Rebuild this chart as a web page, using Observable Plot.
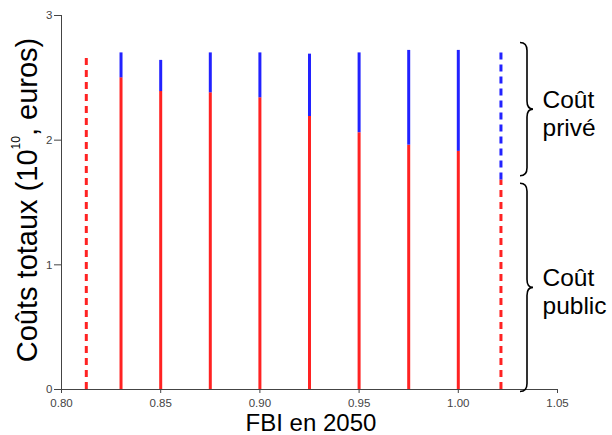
<!DOCTYPE html>
<html>
<head>
<meta charset="utf-8">
<script src="https://cdn.jsdelivr.net/npm/d3@7"></script>
<script src="https://cdn.jsdelivr.net/npm/@observablehq/plot@0.6"></script>
<style>
  html, body { margin: 0; padding: 0; background: #fff; }
  #chart { width: 612px; height: 435px; }
</style>
</head>
<body>
<div id="chart"></div>
<script>
// ---- data ----
const fbi        = [0.8125, 0.83, 0.85, 0.875, 0.90, 0.925, 0.95, 0.975, 1.00, 1.0215];
const coutPublic = [2.69, 2.50, 2.39, 2.38, 2.34, 2.19, 2.06, 1.96, 1.91, 1.68];
const coutTotal  = [2.69, 2.70, 2.64, 2.70, 2.70, 2.69, 2.70, 2.72, 2.72, 2.73];
const estimated  = [true, false, false, false, false, false, false, false, false, true];
const xTicks = [0.80, 0.85, 0.90, 0.95, 1.00, 1.05];
const yTicks = [0, 1, 2, 3];
const braceFrom   = [1.71, -0.02];
const braceTo     = [2.78, 1.65];
const braceLabels = ["Coût\nprivé", "Coût\npublic"];
const xLabel = "FBI en 2050";
const yLabelParts = ["Coûts totaux (10", "10", ", euros)"];

// ---- derived tables ----
const rows = fbi.map((x, i) => ({x, pub: coutPublic[i], tot: coutTotal[i], dashed: estimated[i]}));
const braces = braceFrom.map((f, i) => ({from: f, to: braceTo[i], label: braceLabels[i]}));

const RED = "#ff2222", BLUE = "#2222ff";
const solid = rows.filter(d => !d.dashed);
const dash = rows.filter(d => d.dashed);

function braceMark(index, scales, values, dimensions) {
  const ns = "http://www.w3.org/2000/svg";
  const g = document.createElementNS(ns, "g");
  const right = dimensions.width - dimensions.marginRight;
  const x0 = right - 37, xs = right - 30, xt = right - 24, r = 8;
  for (const b of braces) {
    const yt = scales.y(b.to), yb = scales.y(b.from), ym = (yt + yb) / 2;
    const p = document.createElementNS(ns, "path");
    p.setAttribute("d",
      `M${x0},${yt}Q${xs},${yt} ${xs},${yt + r}L${xs},${ym - r}Q${xs},${ym} ${xt},${ym}` +
      `Q${xs},${ym} ${xs},${ym + r}L${xs},${yb - r}Q${xs},${yb} ${x0},${yb}`);
    p.setAttribute("fill", "none");
    p.setAttribute("stroke", "#000");
    p.setAttribute("stroke-width", 1.6);
    g.appendChild(p);
  }
  return g;
}

const plot = Plot.plot({
  width: 612,
  height: 435,
  marginLeft: 61,
  marginRight: 55,
  marginTop: 15,
  marginBottom: 46,
  style: {fontFamily: "'Liberation Sans', Arial, sans-serif", fontSize: "11.5px", color: "#444", background: "#fff"},
  x: {domain: [0.80, 1.05], ticks: xTicks, tickFormat: ".2f", tickSize: 4, tickPadding: 5, line: true, label: null},
  y: {domain: [0, 3], ticks: yTicks, tickFormat: "d", tickSize: 7, tickPadding: 2, line: true, label: null},
  marks: [
    Plot.ruleX(solid, {x: "x", y1: 0, y2: "pub", stroke: RED, strokeWidth: 3}),
    Plot.ruleX(solid, {x: "x", y1: "pub", y2: "tot", stroke: BLUE, strokeWidth: 3}),
    Plot.ruleX(dash, {x: "x", y1: 0, y2: "pub", stroke: RED, strokeWidth: 3, strokeDasharray: "7,5"}),
    Plot.ruleX(dash.filter(d => d.tot > d.pub), {x: "x", y1: "pub", y2: "tot", stroke: BLUE, strokeWidth: 3, strokeDasharray: "7,5"}),
    braceMark,
    Plot.text(braces, {frameAnchor: "right", y: d => (d.from + d.to) / 2, text: "label", textAnchor: "start",
      lineAnchor: "middle", lineHeight: 1.14, fontSize: 24.5, dx: -15, dy: 3, fill: "#000"})
  ]
});

const svg = d3.select(plot);
// x axis title
svg.append("text")
  .attr("x", (61 + 557) / 2 + 2).attr("y", 431)
  .attr("text-anchor", "middle")
  .attr("font-family", "'Liberation Sans', Arial, sans-serif")
  .attr("font-size", 24).attr("fill", "#000")
  .text(xLabel);
// y axis title with superscript
const yt = svg.append("text")
  .attr("transform", "translate(37,200) rotate(-90)")
  .attr("text-anchor", "middle")
  .attr("font-family", "'Liberation Sans', Arial, sans-serif")
  .attr("font-size", 29).attr("fill", "#000");
yt.append("tspan").text(yLabelParts[0]);
yt.append("tspan").attr("font-size", 12).attr("dy", -17).text(yLabelParts[1]);
yt.append("tspan").attr("dy", 17).text(yLabelParts[2]);

document.getElementById("chart").appendChild(plot);
</script>
</body>
</html>
